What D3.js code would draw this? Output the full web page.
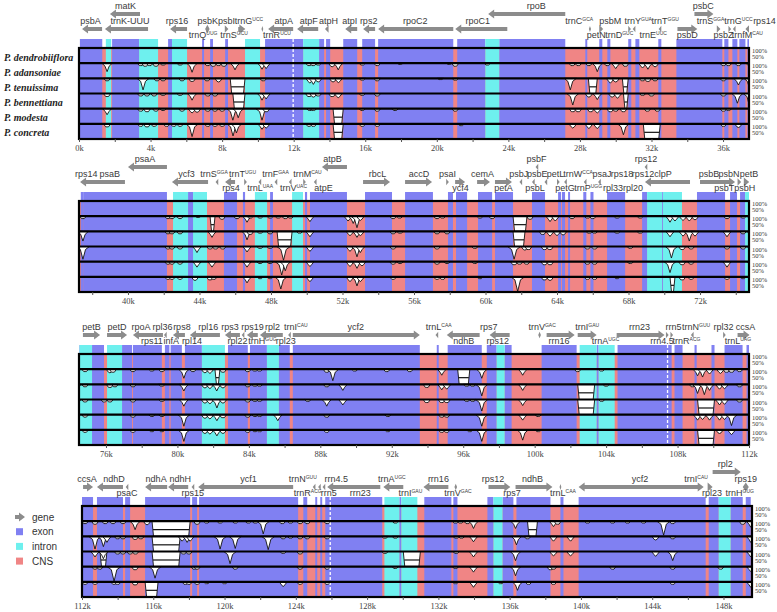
<!DOCTYPE html>
<html>
<head>
<meta charset="utf-8">
<script src="https://cdn.jsdelivr.net/npm/d3@7"></script>
<style>
body { margin: 0; background: #fff; }
svg { display: block; }
</style>
</head>
<body>
<svg id="chart" width="777" height="612"></svg>
<script>
// ---- data (positions in kb) ----
const species = ["P. dendrobiiflora", "P. adansoniae", "P. tenuissima", "P. bennettiana", "P. modesta", "P. concreta"];

const exonRegions = [
  [0.05,1.3],[1.85,3.36],[4.98,5.2],[6.88,6.99],[7.33,7.49],[8.17,8.33],[10.4,12.53],[13.42,13.7],[13.81,14.04],[14.77,15.55],[15.83,16.55],[16.72,20.92],[21.14,22.71],[23.49,27.18],[28.3,28.41],[29.08,29.25],[29.53,29.7],[30.7,30.87],[31.1,31.32],[32.38,32.55],[33.39,35.96],[36.07,36.3],[36.52,36.8],[36.91,37.25],[37.36,37.53],
  [37.53,42.18],[43.36,43.64],[45.37,46.1],[46.43,46.55],[47.95,48.11],[49.9,50.02],[50.18,52.25],[53.26,54.77],[55.5,57.06],[57.9,58.18],[58.35,58.97],[59.58,60.37],[60.53,61.54],[62.6,63.33],[64.06,64.23],[64.28,64.45],[64.62,64.73],[65.47,65.64],[65.87,66.04],[66.8,67.81],[68.76,69.04],[69.88,69.93],[71.83,73.4],[73.68,74.07],[74.24,74.52],
  [75.22,75.89],[76.9,77.46],[77.51,79.13],[79.3,79.55],[79.62,80.25],[80.42,81.37],[82.83,83.94],[84.06,85.01],[85.68,86.29],[86.46,93.57],[94.52,94.63],[95.13,97.04],[97.32,97.87],[98.32,98.71],[100.39,102.35],[103.47,103.58],[104.64,107.67],[107.83,108.28],[108.95,109.07],[109.9,110.07],[110.63,111.64],
  [111.86,112.62],[112.84,114.3],[114.42,114.7],[115.54,118.07],[118.18,118.46],[118.57,124.13],[124.42,124.64],[125.09,125.2],[125.37,125.48],[125.65,128.85],[129.81,129.92],[131.21,132.73],[132.84,133.07],[134.75,135.09],[135.6,136.21],[136.38,138.29],[138.85,139.02],[139.87,147.0],[147.17,147.73],[148.4,149.08],[149.25,149.53]
];

const intronRegions = [
  [1.5,1.8],[3.36,4.42],[5.2,6.04],[9.28,10.12],[12.53,13.42],[22.71,23.49],
  [42.52,43.36],[43.64,44.42],[47.1,47.78],[49.18,49.79],[69.04,69.88],[69.93,70.99],[74.52,75.22],
  [76.06,76.9],[81.37,82.66],[85.01,85.68],[97.87,98.32],[102.52,103.47],[103.58,104.48],
  [128.97,129.81],[129.92,130.82],[135.09,135.6],[147.73,148.4]
];

const breaks = [11.97, 107.44, 125.93];

// identity dips: [kb, lowest identity %]
const dipsDendrobiiflora = [];
const dipsAdansoniae = [
  [1.57,72],[3.45,92],[3.7,90],[3.95,92],[4.3,90],[4.7,94],[5.65,94],[6.32,70],[7.2,92],[7.5,90],[7.8,92],[8.1,90],[8.72,78],[10.23,80],[10.46,82],[12.86,92],[13.09,92],[13.37,94],[14.15,88],[14.49,78],[15.83,94],[16.67,92],[17.95,96],[20.69,96],[21.03,90],[22.82,94],[27.57,92],[27.91,92],[28.5,92],[28.97,72],[29.53,92],[30.0,82],[30.54,90],[31.5,84],[31.8,80],[32.2,88],[36.02,92],[36.3,92],[36.86,92],
  [37.48,92],[42.24,92],[42.46,92],[42.91,92],[43.92,96],[45.26,90],[46.1,92],[46.66,80],[46.83,94],[47.39,94],[47.95,94],[48.4,94],[48.8,92],[49.1,94],[50.18,82],[52.31,84],[52.6,76],[52.81,62],[53.0,86],[54.83,92],[55.2,94],[57.29,92],[57.6,94],[59.69,94],[60.37,92],[62.49,90],[63.61,82],[63.9,84],[64.84,92],[65.7,94],[66.0,92],[67.36,94],[68.65,94],[70.32,80],[70.6,84],[71.05,86],[71.4,84],[71.72,88],[73.51,92],[74.41,94],
  [74.83,92],[76.22,88],[76.39,90],[77.51,92],[78.57,94],[79.13,92],[80.36,70],[80.87,92],[81.54,88],[81.82,86],[82.55,90],[83.94,92],[84.34,94],[84.6,94],[88.36,90],[88.7,62],[89.93,94],[91.72,92],[93.01,92],[94.8,80],[97.04,70],[99.33,80],[102.41,92],[103.75,94],[109.12,78],[109.4,74],[109.79,84],[110.4,86],[110.74,90],[111.02,90],[111.47,92],
  [112.17,92],[112.73,90],[113.3,92],[113.74,92],[114.3,92],[114.98,72],[115.65,88],[118.46,90],[119.0,94],[119.75,94],[120.6,94],[121.33,94],[121.72,94],[122.17,58],[123.24,92],[123.7,94],[124.24,92],[124.64,92],[125.76,92],[129.58,94],[132.96,94],[133.24,94],[133.63,92],[133.97,76],[136.33,76],[138.46,82],[138.69,90],[140.37,94],[141.78,94],[142.62,94],[143.52,94],[144.64,54],[145.15,92],[149.08,90],[149.53,80]
];
const dipsTenuissima = [
  [1.57,92],[3.58,62],[4.36,92],[4.7,92],[5.76,92],[6.32,90],[7.16,92],[7.8,88],[10.3,92],[12.9,84],[13.1,80],[13.37,88],[14.2,88],[14.5,86],[15.83,94],[16.67,92],[20.2,96],[21.03,94],[27.46,62],[29.7,84],[30.0,88],[31.5,92],[31.8,90],[32.2,92],[36.02,92],[36.86,78],
  [37.48,68],[42.24,92],[42.46,92],[42.91,92],[44.7,80],[46.66,72],[46.83,90],[47.39,94],[47.95,92],[49.6,94],[50.18,82],[52.42,86],[52.81,80],[53.0,86],[54.83,92],[55.22,94],[57.29,92],[57.85,92],[63.2,90],[63.61,84],[64.0,86],[64.34,88],[65.8,94],[66.1,94],[67.36,94],[68.65,94],[70.32,82],[71.05,84],[71.4,68],[71.72,84],[73.51,82],[74.41,92],
  [74.83,92],[76.22,90],[76.5,92],[77.51,92],[79.13,94],[80.36,78],[81.54,88],[81.82,86],[82.2,78],[82.55,88],[83.94,92],[84.34,94],[84.6,94],[88.36,92],[89.26,80],[93.96,90],[94.8,82],[95.08,84],[96.2,94],[96.53,94],[97.04,62],[99.33,80],[104.0,94],[108.84,92],[109.12,70],[109.5,66],[109.79,80],[110.35,84],[110.63,86],[111.47,92],
  [112.73,58],[113.2,66],[113.4,80],[114.0,92],[114.3,92],[114.98,90],[115.3,92],[117.62,84],[117.9,80],[118.07,84],[119.75,58],[120.6,60],[122.45,56],[123.29,92],[123.7,94],[124.24,92],[124.64,92],[125.76,92],[129.0,94],[129.58,94],[133.0,94],[133.3,94],[133.97,82],[136.38,72],[137.0,92],[138.46,84],[139.42,84],[144.19,88],[145.15,92],[149.53,80]
];
const dipsBennettiana = [
  [1.57,90],[3.45,92],[3.8,92],[4.2,92],[4.7,94],[5.65,94],[6.32,78],[7.2,92],[7.6,92],[10.23,78],[10.46,82],[12.86,90],[13.1,88],[13.37,92],[14.15,90],[14.49,86],[15.83,94],[16.67,92],[27.6,62],[28.5,88],[28.97,80],[29.8,88],[30.1,84],[31.5,94],[32.0,92],[36.02,92],[36.8,68],
  [37.48,58],[42.24,92],[42.46,92],[42.91,92],[43.86,80],[44.59,92],[44.9,92],[45.3,92],[46.66,82],[47.39,94],[47.95,94],[48.7,55],[50.18,84],[52.42,84],[52.81,66],[53.0,80],[54.83,92],[57.29,92],[59.4,94],[61.6,58],[62.2,88],[62.4,90],[63.3,90],[63.6,90],[65.7,92],[66.1,92],[68.1,94],[70.4,62],[71.0,90],[71.5,92],[73.51,92],[74.41,92],
  [74.83,92],[75.9,92],[76.22,92],[77.51,92],[79.13,94],[80.36,78],[81.54,88],[81.82,86],[82.21,72],[82.55,88],[83.94,92],[84.34,94],[84.6,94],[87.3,94],[88.36,78],[89.26,82],[93.96,90],[94.8,90],[95.08,90],[96.2,94],[96.53,94],[97.04,62],[99.33,80],[103.75,94],[110.35,82],[110.63,84],[111.47,92],
  [112.73,82],[113.2,76],[114.0,92],[114.3,92],[114.7,92],[115.0,92],[117.7,92],[118.0,92],[120.31,60],[123.29,94],[124.24,92],[129.0,94],[133.0,94],[133.97,82],[136.33,70],[138.46,86],[139.42,86],[144.19,84],[145.15,70],[149.53,82]
];
const dipsModesta = [
  [1.57,80],[3.45,92],[3.8,90],[4.3,92],[4.7,94],[5.76,92],[6.32,86],[6.6,88],[7.2,92],[7.6,92],[8.0,92],[8.6,62],[8.9,70],[10.23,62],[10.46,90],[12.9,94],[13.1,94],[15.83,94],[16.67,92],[17.67,94],[21.03,92],[27.6,90],[27.9,90],[28.6,90],[28.97,86],[29.7,90],[30.0,92],[30.43,90],[31.77,92],[32.33,92],[36.02,92],[36.3,94],
  [42.24,92],[42.46,92],[42.91,92],[43.86,82],[44.7,82],[46.66,82],[47.39,94],[47.95,94],[48.6,56],[48.8,70],[50.18,84],[52.42,84],[52.81,78],[53.09,86],[54.83,92],[55.22,94],[57.29,92],[57.85,94],[59.4,94],[61.6,90],[61.9,92],[62.3,92],[63.3,90],[63.61,90],[65.7,92],[66.1,92],[68.1,94],[70.32,64],[71.0,90],[71.5,92],[73.51,82],
  [74.83,92],[77.51,92],[78.57,94],[79.13,94],[80.36,62],[81.54,88],[81.82,86],[82.21,80],[82.55,90],[83.94,92],[84.34,94],[84.6,94],[85.62,80],[88.36,92],[91.78,94],[94.8,92],[95.08,92],[97.04,62],[99.33,82],[100.2,94],[109.12,82],[109.4,84],[109.79,82],[110.35,82],[110.63,84],[111.02,64],
  [112.73,92],[113.0,92],[113.8,52],[114.98,90],[116.1,62],[118.3,92],[118.46,92],[120.6,92],[124.24,92],[125.76,92],[129.58,94],[132.96,94],[133.97,82],[136.33,70],[138.29,90],[138.46,92],[141.78,92],[145.15,92],[147.84,92],[149.53,84]
];
const dipsConcreta = [
  [1.57,90],[3.45,92],[3.8,90],[4.2,92],[4.9,92],[5.3,92],[5.65,92],[6.32,58],[7.2,92],[7.6,92],[8.0,92],[8.61,60],[8.8,70],[10.23,82],[10.46,86],[12.86,92],[13.1,92],[15.83,92],[16.67,92],[21.36,94],[27.6,86],[28.5,84],[28.97,84],[30.43,64],[36.02,92],[36.86,88],
  [42.24,92],[42.46,92],[42.91,92],[43.75,88],[44.59,90],[44.8,92],[46.66,80],[47.39,94],[47.95,94],[48.55,60],[50.18,84],[52.42,84],[52.81,70],[53.0,84],[54.83,92],[57.29,92],[57.6,92],[59.69,94],[61.8,52],[63.3,90],[63.61,88],[65.7,92],[66.1,92],[67.36,94],[71.0,90],[71.5,92],[73.51,92],[74.41,94],
  [74.83,92],[77.51,92],[78.57,94],[79.13,94],[80.36,62],[81.54,88],[81.82,86],[82.21,80],[82.55,88],[83.94,92],[84.34,94],[84.6,94],[88.36,92],[91.78,94],[94.8,92],[95.08,92],[96.37,94],[97.04,62],[99.33,66],[100.2,94],[110.35,88],[111.02,84],
  [112.17,92],[112.73,92],[113.8,92],[114.0,92],[114.98,90],[117.8,92],[118.0,92],[118.46,92],[119.0,94],[120.0,94],[123.29,84],[124.24,92],[125.76,92],[132.96,94],[133.97,82],[135.5,94],[136.44,72],[137.06,92],[138.46,92],[145.15,92],[149.53,82]
];

// unaligned stretches: [from kb, to kb]
const gapsDendrobiiflora = [];
const gapsAdansoniae = [[44.59,44.87],[61.54,62.32],[82.1,82.38],[95.69,96.37],[115.93,118.07],[137.0,137.56]];
const gapsTenuissima = [[8.45,9.28],[28.47,28.97],[30.37,30.7],[48.34,49.18],[61.54,62.21],[102.41,103.36],[115.93,117.51]];
const gapsBennettiana = [[8.6,9.28],[30.43,30.7],[102.41,103.36],[109.12,110.07],[113.01,113.4],[115.93,117.51],[130.03,130.99]];
const gapsModesta = [[14.2,14.77]];
const gapsConcreta = [[14.2,14.77],[31.54,32.49],[70.32,70.6],[109.12,110.07],[115.54,116.27]];

const dips = [dipsDendrobiiflora, dipsAdansoniae, dipsTenuissima, dipsBennettiana, dipsModesta, dipsConcreta];
const gaps = [gapsDendrobiiflora, gapsAdansoniae, gapsTenuissima, gapsBennettiana, gapsModesta, gapsConcreta];

// gene labels: [panel, name, superscript, kb, tier]
const geneLabels = [
  [0,"matK","",2.6,0],[0,"psbA","",0.64,1],[0,"trnK-UUU","",2.85,1],[0,"rps16","",5.48,1],[0,"psbK","",7.19,1],[0,"psbI","",8.25,1],[0,"trnG","UCC",9.5,1],[0,"atpA","",11.44,1],[0,"atpF","",12.84,1],[0,"atpH","",13.95,1],[0,"atpI","",15.13,1],[0,"rps2","",16.19,1],[0,"rpoC2","",18.79,1],[0,"rpoC1","",22.29,1],[0,"trnQ","UUG",6.94,2],[0,"trnS","GCU",8.67,2],[0,"trnR","UCU",11.07,2],[0,"rpoB","",25.56,0],[0,"trnC","GCA",27.96,1],[0,"psbM","",29.7,1],[0,"trnY","GUA",31.26,1],[0,"trnT","GGU",32.77,1],[0,"petN","",28.91,2],[0,"trnD","GUC",30.2,2],[0,"trnE","UUC",32.1,2],[0,"psbD","",34.0,2],[0,"psbC","",34.9,0],[0,"trnS","GGA",35.3,1],[0,"trnG","UCC",36.86,1],[0,"rps14","",38.31,1],[0,"psbZ","",36.02,2],[0,"trnfM","CAU",37.36,2],
  [1,"psaA","",40.95,0],[1,"rps14","",37.66,1],[1,"psaB","",38.98,1],[1,"ycf3","",43.27,1],[1,"trnS","GGA",44.81,1],[1,"trnT","UGU",46.41,1],[1,"rps4","",45.76,2],[1,"trnL","UAA",47.39,2],[1,"trnF","GAA",48.25,1],[1,"trnV","UAC",49.26,2],[1,"trnM","CAU",50.04,1],[1,"atpB","",51.44,0],[1,"atpE","",50.94,2],[1,"rbcL","",53.96,1],[1,"accD","",56.28,1],[1,"psaI","",57.88,1],[1,"ycf4","",58.6,2],[1,"cemA","",59.83,1],[1,"petA","",61.01,2],[1,"psbF","",62.85,0],[1,"psbJ","",61.86,1],[1,"psbE","",62.9,1],[1,"petL","",63.91,1],[1,"trnW","CCA",65.18,1],[1,"psaJ","",66.52,1],[1,"rps18","",67.64,1],[1,"rps12","",68.81,1],[1,"clpP","",69.93,1],[1,"rps12","",68.98,0],[1,"psbB","",72.5,1],[1,"psbN","",73.62,1],[1,"petB","",74.74,1],[1,"psbL","",62.77,2],[1,"petG","",64.45,2],[1,"trnP","UGG",65.74,2],[1,"rpl33","",67.13,2],[1,"rpl20","",68.25,2],[1,"psbT","",73.36,2],[1,"psbH","",74.5,2],
  [2,"petB","",75.19,1],[2,"petD","",76.62,1],[2,"rpoA","",77.96,1],[2,"rpl36","",79.16,1],[2,"rps8","",80.25,1],[2,"rpl16","",81.73,1],[2,"rps3","",82.94,1],[2,"rps19","",84.2,1],[2,"rpl2","",85.32,1],[2,"trnI","CAU",86.63,1],[2,"ycf2","",89.99,1],[2,"trnL","CAA",94.63,1],[2,"rps7","",97.43,1],[2,"trnV","GAC",100.42,1],[2,"trnI","GAU",102.94,1],[2,"rrn23","",105.87,1],[2,"rrn5","",107.78,1],[2,"trnN","GUU",109.04,1],[2,"rpl32","",110.57,1],[2,"ccsA","",111.8,1],[2,"rps11","",78.57,2],[2,"infA","",79.66,2],[2,"rpl14","",80.81,2],[2,"rpl22","",83.36,2],[2,"trnH","GUG",84.76,2],[2,"rpl23","",86.07,2],[2,"ndhB","",96.03,2],[2,"rps12","",97.93,2],[2,"rrn16","",101.37,2],[2,"trnA","UGC",103.97,2],[2,"rrn4.5","",107.13,2],[2,"trnR","ACG",108.5,2],[2,"trnL","UAG",111.38,2],
  [3,"ccsA","",112.28,1],[3,"ndhD","",113.8,1],[3,"ndhA","",116.16,1],[3,"ndhH","",117.51,1],[3,"ycf1","",121.35,1],[3,"psaC","",114.53,2],[3,"rps15","",118.21,2],[3,"trnN","GUU",124.39,1],[3,"rrn4.5","",126.27,1],[3,"trnR","ACG",124.67,2],[3,"rrn5","",125.85,2],[3,"rrn23","",127.62,2],[3,"trnA","UGC",129.39,1],[3,"trnI","GAU",130.43,2],[3,"rrn16","",132.0,1],[3,"trnV","GAC",133.1,2],[3,"rps12","",135.06,1],[3,"rps7","",136.13,2],[3,"ndhB","",137.28,1],[3,"trnL","CAA",138.99,2],[3,"ycf2","",143.32,1],[3,"trnI","CAU",146.46,1],[3,"rpl2","",148.1,0],[3,"rps19","",149.25,1],[3,"rpl23","",147.36,2],[3,"trnH","GUG",148.91,2]
];

// gene arrows: [panel, from kb, to kb, direction (1 right, -1 left, 0 both), tier]
const geneArrows = [
  [0,1.73,3.41,-1,0],[0,0.17,1.29,-1,1],[0,1.45,3.86,-1,1],[0,5.09,6.04,-1,1],[0,7.05,7.3,0,1],[0,8.15,8.35,1,1],[0,8.9,9.3,1,1],[0,10.2,10.3,0,1],[0,10.57,11.97,-1,1],[0,12.19,13.37,-1,1],[0,13.75,13.95,-1,1],[0,14.88,15.55,-1,1],[0,15.88,16.55,-1,1],[0,16.72,20.92,-1,1],[0,21.03,23.94,-1,1],[0,22.87,27.18,-1,0],[0,28.5,28.62,0,1],[0,29.08,29.3,1,1],[0,30.7,30.85,1,1],[0,30.95,31.1,-1,1],[0,32.4,32.55,-1,1],[0,33.45,34.56,1,1],[0,34.4,35.46,1,0],[0,35.65,35.85,1,1],[0,36.3,36.45,1,1],[0,36.55,36.7,-1,1],[0,37.25,37.45,-1,1],
  [1,40.0,42.18,-1,0],[1,37.32,39.83,-1,1],[1,42.46,44.48,-1,1],[1,44.9,45.05,-1,1],[1,45.43,45.99,-1,1],[1,46.5,46.65,1,1],[1,47.3,47.45,-1,1],[1,48.2,48.35,-1,1],[1,49.0,49.15,-1,1],[1,49.8,49.95,1,1],[1,50.85,52.25,-1,0],[1,50.4,50.55,-1,1],[1,53.15,54.66,1,1],[1,55.5,57.01,1,1],[1,57.8,57.95,1,1],[1,58.3,58.86,1,1],[1,59.53,60.25,1,1],[1,60.53,61.48,1,1],[1,62.8,62.95,-1,0],[1,61.9,62.05,-1,1],[1,62.6,62.75,-1,1],[1,63.3,63.45,-1,1],[1,64.0,64.15,1,1],[1,64.4,64.55,-1,1],[1,65.5,65.65,-1,1],[1,66.3,66.45,-1,1],[1,68.9,69.05,-1,0],[1,68.92,71.44,-1,1],[1,72.0,73.96,1,1],[1,74.1,74.3,1,1],[1,74.45,74.75,1,1],
  [2,74.71,75.67,1,1],[2,76.06,77.18,1,1],[2,77.51,79.19,-1,1],[2,79.25,79.4,-1,1],[2,79.75,80.42,-1,1],[2,80.7,82.38,-1,1],[2,82.66,83.5,-1,1],[2,83.6,83.75,-1,1],[2,83.89,84.5,-1,1],[2,84.62,85.9,-1,1],[2,86.2,86.35,-1,1],[2,86.46,93.57,1,1],[2,94.45,94.6,-1,1],[2,95.08,96.92,-1,1],[2,97.48,98.6,-1,1],[2,100.2,100.35,0,1],[2,100.67,102.24,1,1],[2,102.41,103.47,1,1],[2,104.59,107.27,1,1],[2,107.35,107.5,1,1],[2,107.6,107.75,1,1],[2,108.75,108.9,-1,1],[2,110.55,110.7,1,1],[2,111.36,112.03,1,1],
  [3,112.06,112.62,1,1],[3,112.84,114.3,-1,1],[3,114.45,114.6,-1,1],[3,115.54,116.78,-1,1],[3,116.83,117.96,-1,1],[3,118.15,118.3,-1,1],[3,118.52,123.85,-1,1],[3,124.95,125.1,-1,1],[3,125.25,125.4,-1,1],[3,125.5,125.65,-1,1],[3,125.76,128.74,-1,1],[3,128.91,130.03,-1,1],[3,131.16,132.56,-1,1],[3,132.9,133.05,0,1],[3,134.81,136.04,1,1],[3,136.33,138.4,1,1],[3,138.8,138.9,0,1],[3,139.87,146.89,0,1],[3,147.11,147.39,1,1],[3,147.39,148.97,1,0],[3,149.08,149.42,0,1]
];

const legendItems = ["gene", "exon", "intron", "CNS"];

// ---- layout ----
const panels = [
  { from: 0,     to: 37.45,  left: 79, right: 749, top: 48 },
  { from: 37.26, to: 74.74,  left: 79, right: 749, top: 201 },
  { from: 74.49, to: 112,    left: 79, right: 749, top: 354 },
  { from: 112,   to: 149.6,  left: 82, right: 752, top: 506 }
];
const H = 91, h = H / species.length;
const labelTierY = [-33, -18, -4];
const arrowTierY = [-25, -10];
const colors = { exon: "#8080f2", intron: "#6ef0ee", cns: "#f08585", gene: "#8c8c8c" };
const sans = "'Liberation Sans', Arial, sans-serif";
const serif = "'Liberation Serif', 'Times New Roman', serif";

const svg = d3.select("#chart");
const defs = svg.append("defs");

function arrowPath(xa, xb, yc, dir) {
  const t = 2, len = xb - xa;
  const hh = Math.min(4.5, 2 + len * 0.5);
  const hl = Math.min(6, len);
  if (dir === 1) {
    const s = xb - hl;
    return `M${xa},${yc - t}L${s},${yc - t}L${s},${yc - hh}L${xb},${yc}L${s},${yc + hh}L${s},${yc + t}L${xa},${yc + t}Z`;
  }
  if (dir === -1) {
    const s = xa + hl;
    return `M${xb},${yc - t}L${s},${yc - t}L${s},${yc - hh}L${xa},${yc}L${s},${yc + hh}L${s},${yc + t}L${xb},${yc + t}Z`;
  }
  const hl2 = Math.min(6, len / 2), m1 = xa + hl2, m2 = xb - hl2;
  return `M${xa},${yc}L${m1},${yc - hh}L${m1},${yc - t}L${m2},${yc - t}L${m2},${yc - hh}L${xb},${yc}L${m2},${yc + hh}L${m2},${yc + t}L${m1},${yc + t}L${m1},${yc + hh}Z`;
}

panels.forEach((p, pi) => {
  const x = d3.scaleLinear().domain([p.from, p.to]).range([p.left, p.right]);
  const stripTop = p.top - 9;
  const g = svg.append("g");

  defs.append("clipPath").attr("id", "clip" + pi)
    .append("rect").attr("x", p.left).attr("y", stripTop)
    .attr("width", p.right - p.left).attr("height", H + 9);
  const body = g.append("g").attr("clip-path", `url(#clip${pi})`);

  const inView = d => d[1] >= p.from - 0.5 && d[0] <= p.to + 0.5;
  const ex = exonRegions.filter(inView), intr = intronRegions.filter(inView);

  // annotation strip above the plot
  body.selectAll(null).data(ex).join("rect")
    .attr("x", d => x(d[0])).attr("width", d => Math.max(1, x(d[1]) - x(d[0])))
    .attr("y", stripTop).attr("height", 9).attr("fill", colors.exon);
  body.selectAll(null).data(intr).join("rect")
    .attr("x", d => x(d[0])).attr("width", d => Math.max(1, x(d[1]) - x(d[0])))
    .attr("y", stripTop).attr("height", 9).attr("fill", colors.intron);

  species.forEach((s, ti) => {
    const ty = p.top + ti * h;
    const y = d3.scaleLinear().domain([50, 100]).range([ty + h, ty]);
    const tg = body.append("g");
    tg.append("rect").attr("x", p.left).attr("y", ty).attr("width", p.right - p.left).attr("height", h).attr("fill", colors.cns);
    tg.selectAll(null).data(ex).join("rect")
      .attr("x", d => x(d[0])).attr("width", d => Math.max(1, x(d[1]) - x(d[0])))
      .attr("y", ty).attr("height", h).attr("fill", colors.exon);
    tg.selectAll(null).data(intr).join("rect")
      .attr("x", d => x(d[0])).attr("width", d => Math.max(1, x(d[1]) - x(d[0])))
      .attr("y", ty).attr("height", h).attr("fill", colors.intron);

    // unaligned blocks
    const gp = gaps[ti].filter(inView);
    tg.selectAll(null).data(gp).join("path")
      .attr("d", d => {
        const a = x(d[0]), b = x(d[1]);
        return `M${a},${y(100)}L${a + 1.5},${y(50)}L${b - 1.5},${y(50)}L${b},${y(100)}Z`;
      })
      .attr("fill", "#fff").attr("stroke", "#111").attr("stroke-width", 0.9);
    tg.selectAll(null).data(gp).join("line")
      .attr("x1", d => x(d[0]) + 1).attr("x2", d => x(d[1]) - 1)
      .attr("y1", y(72)).attr("y2", y(72))
      .attr("stroke", "#111").attr("stroke-width", 1.2);

    // identity dips
    tg.selectAll(null).data(dips[ti].filter(d => d[0] >= p.from - 0.5 && d[0] <= p.to + 0.5)).join("path")
      .attr("d", d => {
        const w = 0.15 + (100 - d[1]) * 0.005;
        const a = x(d[0] - w), b = x(d[0] + w), c = x(d[0]);
        const yb = y(d[1]), ym = Math.min(yb, y(100) + 3);
        return `M${a},${y(100)}L${c - (c - a) * 0.4},${ym}L${c},${yb}L${c + (b - c) * 0.4},${ym}L${b},${y(100)}Z`;
      })
      .attr("fill", "#fff").attr("stroke", "#111").attr("stroke-width", 0.9).attr("stroke-linejoin", "round");
  });

  // white dashed breaks
  body.selectAll(null).data(breaks.filter(b => b > p.from && b < p.to)).join("line")
    .attr("x1", d => x(d)).attr("x2", d => x(d))
    .attr("y1", stripTop).attr("y2", p.top + H)
    .attr("stroke", "#fff").attr("stroke-width", 1.3).attr("stroke-dasharray", "3,2");

  // 100% lines for each track
  g.selectAll(null).data(d3.range(1, species.length)).join("line")
    .attr("x1", p.left).attr("x2", p.right)
    .attr("y1", d => p.top + d * h).attr("y2", d => p.top + d * h)
    .attr("stroke", "#000").attr("stroke-width", 2.2);
  g.append("rect").attr("x", p.left).attr("y", p.top).attr("width", p.right - p.left).attr("height", H)
    .attr("fill", "none").attr("stroke", "#000").attr("stroke-width", 2.2);

  // percentage labels
  species.forEach((s, ti) => {
    const ty = p.top + ti * h;
    g.append("text").attr("x", p.right + 3).attr("y", ty + 5).text("100%")
      .attr("font-family", serif).attr("font-size", 6.5).attr("fill", "#333");
    g.append("text").attr("x", p.right + 3).attr("y", ty + 11).text("50%")
      .attr("font-family", serif).attr("font-size", 6.5).attr("fill", "#333");
  });

  // x axis
  const tv = d3.range(Math.ceil(p.from / 2) * 2, p.to + 0.01, 2);
  const axis = d3.axisBottom(x).tickValues(tv).tickSize(3)
    .tickFormat(d => (d % 4 === 0 ? d + "k" : ""));
  const ag = g.append("g").attr("transform", `translate(0,${p.top + H})`).call(axis);
  ag.select(".domain").remove();
  ag.selectAll(".tick line").attr("stroke", "#555");
  ag.selectAll(".tick text").attr("font-family", serif).attr("font-size", 8.5).attr("fill", "#444");

  // genes
  geneArrows.filter(d => d[0] === pi).forEach(d => {
    g.append("path").attr("d", arrowPath(x(d[1]), x(d[2]), stripTop + arrowTierY[d[4]], d[3]))
      .attr("fill", colors.gene);
  });
  geneLabels.filter(d => d[0] === pi).forEach(d => {
    const t = g.append("text").attr("x", x(d[3])).attr("y", stripTop + labelTierY[d[4]] + 3.3)
      .attr("text-anchor", "middle").attr("font-family", sans).attr("font-size", 9).attr("fill", "#3a3a3a");
    t.append("tspan").text(d[1]);
    if (d[2]) t.append("tspan").attr("font-size", 5).attr("dy", -3.5).text(d[2]);
  });
});

// species names
species.forEach((s, i) => {
  svg.append("text").attr("x", 4).attr("y", panels[0].top + i * h + h / 2 + 5)
    .attr("font-family", serif).attr("font-weight", "bold").attr("font-style", "italic")
    .attr("font-size", 10).attr("fill", "#222").text(s);
});

// legend
const lg = svg.append("g");
const legendColors = [colors.gene, colors.exon, colors.intron, colors.cns];
legendItems.forEach((name, i) => {
  const yy = 517 + i * 14.7;
  if (i === 0) lg.append("path").attr("d", arrowPath(15, 25, yy, 1)).attr("fill", colors.gene);
  else lg.append("rect").attr("x", 16).attr("y", yy - 3.5).attr("width", 7).attr("height", 7).attr("fill", legendColors[i]);
  lg.append("text").attr("x", 32).attr("y", yy + 3.5).text(name)
    .attr("font-family", sans).attr("font-size", 10).attr("fill", "#333");
});
</script>
</body>
</html>
